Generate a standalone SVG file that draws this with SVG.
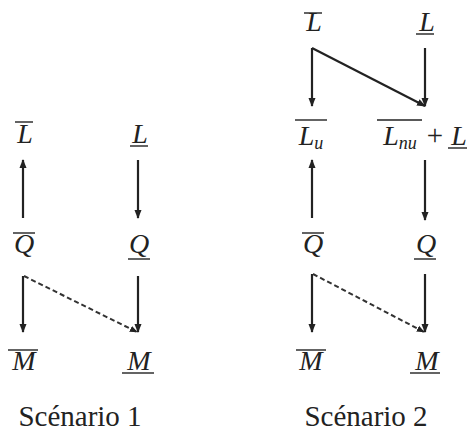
<svg xmlns="http://www.w3.org/2000/svg" width="472" height="432" viewBox="0 0 472 432">
<defs>
<marker id="ah" viewBox="0 0 10 10" refX="9" refY="5" markerWidth="4" markerHeight="4" orient="auto" markerUnits="strokeWidth">
<path d="M0,1 L10,5 L0,9 Z" fill="#222"/>
</marker>
<style>
text{font-family:"Liberation Serif",serif !important}
.m{font-style:italic;font-size:28px;fill:#222;text-anchor:middle}
.s{font-size:18px}
.r{font-size:29px;fill:#222;text-anchor:middle}
.bar{stroke:#222;stroke-width:1.4}
.a{stroke:#222;stroke-width:2.2;fill:none;marker-end:url(#ah)}
.d{stroke:#333;stroke-width:2;stroke-dasharray:5,3;fill:none;marker-end:url(#ah)}
</style>
</defs>
<g id="connectors">
<line class="a" x1="23" y1="218" x2="23" y2="160"/>
<line class="a" x1="138" y1="160" x2="138" y2="218"/>
<line class="a" x1="23" y1="276" x2="23" y2="332"/>
<line class="d" x1="24" y1="276" x2="137" y2="332"/>
<line class="a" x1="138" y1="276" x2="138" y2="332"/>
<line class="a" x1="312" y1="48" x2="312" y2="106"/>
<polyline class="a" points="312,48 425,106"/>
<line class="a" x1="425" y1="48" x2="425" y2="106"/>
<line class="a" x1="312" y1="218" x2="312" y2="160"/>
<line class="a" x1="425" y1="160" x2="425" y2="220"/>
<line class="a" x1="312" y1="274" x2="312" y2="332"/>
<line class="d" x1="313" y1="274" x2="424" y2="332"/>
<line class="a" x1="425" y1="274" x2="425" y2="332"/>
</g>
<g id="s1-Lbar"><text class="m" x="25" y="143" style="font-family:'Liberation Serif',serif">L</text><line class="bar" x1="15" y1="122" x2="33" y2="122"/></g>
<g id="s1-Lund"><text class="m" x="140" y="143" style="font-family:'Liberation Serif',serif">L</text><line class="bar" x1="130" y1="146" x2="148" y2="146"/></g>
<g id="s1-Qbar"><text class="m" x="24" y="253" style="font-family:'Liberation Serif',serif">Q</text><line class="bar" x1="13" y1="233" x2="35" y2="233"/></g>
<g id="s1-Qund"><text class="m" x="139" y="253" style="font-family:'Liberation Serif',serif">Q</text><line class="bar" x1="128" y1="259" x2="150" y2="259"/></g>
<g id="s1-Mbar"><text class="m" x="24" y="370" style="font-family:'Liberation Serif',serif">M</text><line class="bar" x1="8" y1="350" x2="38" y2="350"/></g>
<g id="s1-Mund"><text class="m" x="139" y="370" style="font-family:'Liberation Serif',serif">M</text><line class="bar" x1="122" y1="373" x2="154" y2="373"/></g>
<g id="s1-title"><text class="r" x="80" y="426" style="font-family:'Liberation Serif',serif">Scénario 1</text></g>
<g id="s2-Lbar"><text class="m" x="314" y="31" style="font-family:'Liberation Serif',serif">L</text><line class="bar" x1="304" y1="13" x2="322" y2="13"/></g>
<g id="s2-Lund"><text class="m" x="427" y="31" style="font-family:'Liberation Serif',serif">L</text><line class="bar" x1="416" y1="34" x2="434" y2="34"/></g>
<g id="s2-Lu"><text class="m" x="311" y="145" style="font-family:'Liberation Serif',serif">L<tspan class="s" dy="4">u</tspan></text><line class="bar" x1="295" y1="120" x2="327" y2="120"/></g>
<g id="s2-Lnu"><text class="m" x="400" y="145" style="font-family:'Liberation Serif',serif">L<tspan class="s" dy="4">nu</tspan></text><line class="bar" x1="377" y1="120" x2="422" y2="120"/><text class="r" x="435" y="145" style="font-family:'Liberation Serif',serif">+</text><text class="m" x="459" y="145" style="font-family:'Liberation Serif',serif">L</text><line class="bar" x1="448" y1="148" x2="467" y2="148"/></g>
<g id="s2-Qbar"><text class="m" x="313" y="253" style="font-family:'Liberation Serif',serif">Q</text><line class="bar" x1="302" y1="233" x2="324" y2="233"/></g>
<g id="s2-Qund"><text class="m" x="426" y="253" style="font-family:'Liberation Serif',serif">Q</text><line class="bar" x1="414" y1="259" x2="436" y2="259"/></g>
<g id="s2-Mbar"><text class="m" x="311" y="370" style="font-family:'Liberation Serif',serif">M</text><line class="bar" x1="296" y1="350" x2="326" y2="350"/></g>
<g id="s2-Mund"><text class="m" x="427" y="370" style="font-family:'Liberation Serif',serif">M</text><line class="bar" x1="410" y1="373" x2="440" y2="373"/></g>
<g id="s2-title"><text class="r" x="366" y="426" style="font-family:'Liberation Serif',serif">Scénario 2</text></g>
</svg>
